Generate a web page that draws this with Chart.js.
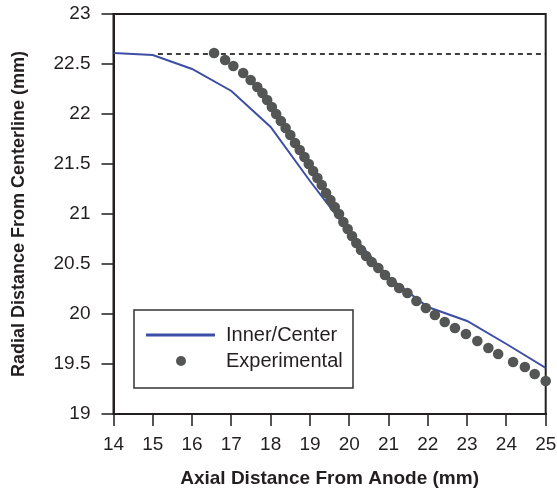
<!DOCTYPE html>
<html>
<head>
<meta charset="utf-8">
<script src="https://cdn.jsdelivr.net/npm/chart.js@4.4.0/dist/chart.umd.min.js"></script>
<style>
  html, body { margin: 0; padding: 0; background: #fff; }
</style>
</head>
<body>
<canvas id="chart" width="557" height="503"></canvas>
<script>
// values
const innerX = [14, 15, 16, 17, 18, 19, 20, 21, 22, 23, 24, 25];
const innerY = [22.61, 22.59, 22.45, 22.23, 21.87, 21.33, 20.82, 20.37, 20.07, 19.93, 19.70, 19.46];

const expX = [16.56, 16.84, 17.05, 17.30, 17.49, 17.66, 17.79, 17.91, 18.03, 18.14,
  18.26, 18.38, 18.50, 18.62, 18.74, 18.86, 18.97, 19.08, 19.19, 19.30,
  19.41, 19.52, 19.63, 19.74, 19.85, 19.96, 20.07, 20.18, 20.30, 20.43,
  20.57, 20.74, 20.91, 21.08, 21.27, 21.48, 21.71, 21.95, 22.18, 22.43,
  22.69, 22.97, 23.26, 23.54, 23.79, 24.17, 24.47, 24.72, 25.00];
const expY = [22.61, 22.54, 22.48, 22.41, 22.34, 22.27, 22.21, 22.14, 22.07, 22.00,
  21.93, 21.86, 21.79, 21.71, 21.64, 21.57, 21.50, 21.43, 21.36, 21.29,
  21.21, 21.14, 21.07, 21.00, 20.92, 20.85, 20.78, 20.71, 20.64, 20.58,
  20.52, 20.46, 20.39, 20.32, 20.26, 20.21, 20.13, 20.06, 19.99, 19.92,
  19.86, 19.80, 19.73, 19.66, 19.60, 19.52, 19.47, 19.40, 19.33];

// dashed reference level
const refX = [15.13, 25];
const refY = [22.6, 22.6];

const xRange = [14, 25];
const yRange = [19, 23];

const labels = ['Inner/Center', 'Experimental'];

const ink = '#231f20';
const blue = '#3d4fa5';
const dotGrey = '#535654';
const face = "'Liberation Sans', Arial, sans-serif";

function pts(xs, ys) {
  return xs.map((x, i) => ({ x: x, y: ys[i] }));
}

// box around plot + the legend in the lower left
const frameAndLegend = {
  id: 'frameAndLegend',
  beforeDatasetsDraw(chart) {
    const { ctx, chartArea: a } = chart;
    ctx.save();
    ctx.strokeStyle = ink;
    ctx.lineWidth = 2;
    ctx.strokeRect(a.left, a.top, a.right - a.left, a.bottom - a.top);
    ctx.restore();
  },
  afterDatasetsDraw(chart) {
    const { ctx, chartArea: a } = chart;
    const bx = a.left + 20.5, by = a.top + 296, bw = 219, bh = 78;
    ctx.save();
    ctx.fillStyle = '#fff';
    ctx.fillRect(bx, by, bw, bh);
    ctx.strokeStyle = '#333';
    ctx.lineWidth = 1.5;
    ctx.strokeRect(bx, by, bw, bh);

    // line entry
    ctx.strokeStyle = blue;
    ctx.lineWidth = 3;
    ctx.beginPath();
    ctx.moveTo(bx + 12, by + 25);
    ctx.lineTo(bx + 81, by + 25);
    ctx.stroke();

    // dot entry
    ctx.fillStyle = dotGrey;
    ctx.beginPath();
    ctx.arc(bx + 47, by + 51, 5, 0, Math.PI * 2);
    ctx.fill();

    ctx.fillStyle = ink;
    ctx.font = '20px ' + face;
    ctx.textBaseline = 'middle';
    ctx.textAlign = 'left';
    ctx.fillText(labels[0], bx + 92, by + 25);
    ctx.fillText(labels[1], bx + 92, by + 51);
    ctx.restore();
  }
};

new Chart(document.getElementById('chart'), {
  type: 'scatter',
  data: {
    datasets: [
      {
        label: labels[1],
        data: pts(expX, expY),
        backgroundColor: dotGrey,
        borderWidth: 0,
        pointRadius: 5.3,
        clip: false,
        order: 0
      },
      {
        label: labels[0],
        data: pts(innerX, innerY),
        showLine: true,
        borderColor: blue,
        borderWidth: 2,
        pointRadius: 0,
        tension: 0,
        order: 1
      },
      {
        label: 'ref',
        data: pts(refX, refY),
        showLine: true,
        borderColor: '#000',
        borderWidth: 1.4,
        borderDash: [5, 4],
        pointRadius: 0,
        order: 2
      }
    ]
  },
  options: {
    responsive: false,
    animation: false,
    layout: { padding: { top: 14, right: 11.3, left: 0, bottom: 0 } },
    plugins: {
      legend: { display: false },
      tooltip: { enabled: false }
    },
    scales: {
      x: {
        type: 'linear',
        min: xRange[0],
        max: xRange[1],
        afterFit(scale) {
          scale.height = 89;
          scale.paddingLeft = 0;
          scale.paddingRight = 0;
        },
        ticks: {
          stepSize: 1,
          maxRotation: 0,
          autoSkip: false,
          padding: 7,
          color: ink,
          font: { family: face, size: 19 }
        },
        grid: { drawOnChartArea: false, drawTicks: true, tickLength: 12, color: '#555', lineWidth: 2 },
        border: { display: true, color: ink, width: 2 },
        title: {
          display: true,
          text: 'Axial Distance From Anode (mm)',
          color: ink,
          font: { family: face, size: 19, weight: 'bold' },
          padding: { top: 0, bottom: 13 }
        }
      },
      y: {
        type: 'linear',
        min: yRange[0],
        max: yRange[1],
        afterFit(scale) {
          scale.width = 113.5;
          scale.paddingTop = 0;
          scale.paddingBottom = 0;
        },
        ticks: {
          stepSize: 0.5,
          padding: 11,
          color: ink,
          font: { family: face, size: 19 },
          callback: v => String(v)
        },
        grid: { drawOnChartArea: false, drawTicks: true, tickLength: 12, color: '#555', lineWidth: 2 },
        border: { display: true, color: ink, width: 2 },
        title: {
          display: true,
          text: 'Radial Distance From Centerline (mm)',
          color: ink,
          font: { family: face, size: 18, weight: 'bold' },
          padding: { top: 8, bottom: 0 }
        }
      }
    }
  },
  plugins: [frameAndLegend]
});
</script>
</body>
</html>
